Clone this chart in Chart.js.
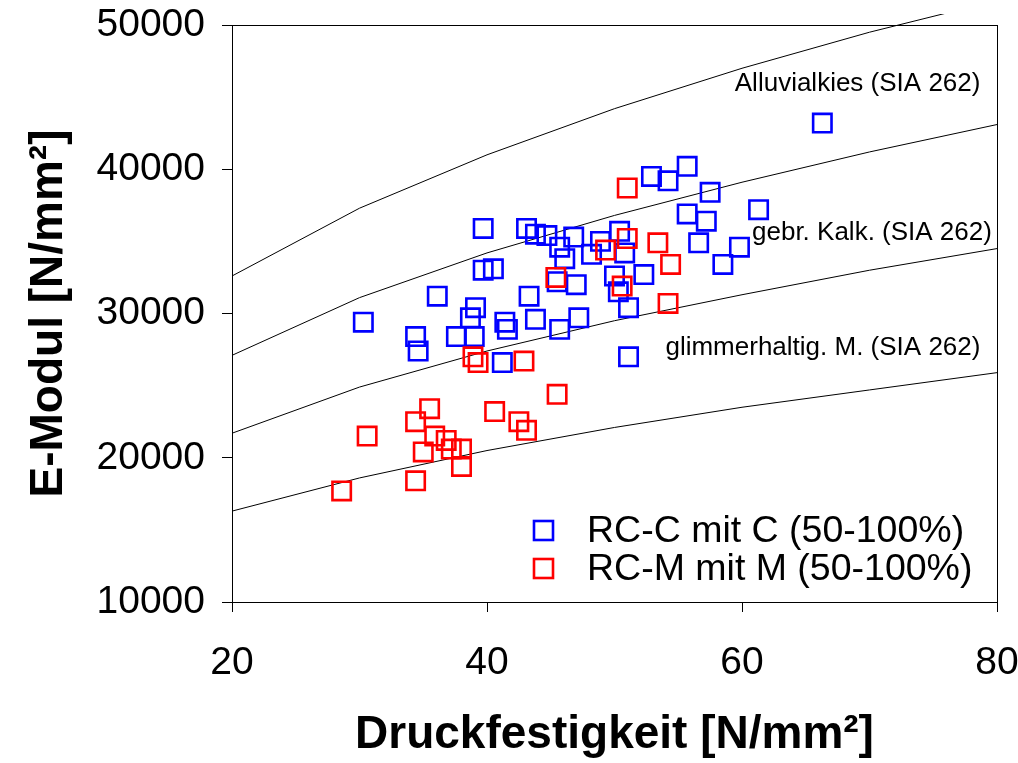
<!DOCTYPE html>
<html>
<head>
<meta charset="utf-8">
<script src="https://cdn.jsdelivr.net/npm/chart.js@4.4.1/dist/chart.umd.min.js"></script>
<style>
  html, body { margin: 0; padding: 0; background: #fff; }
  canvas { display: block; }
</style>
</head>
<body>
<canvas id="emodulChart" width="1018" height="763"></canvas>
<script>
// SIA 262 reference curves (E-Modul vs. Druckfestigkeit)
const siaX = [20, 30, 40, 50, 60, 70, 80];
const alluvialkies = [32600, 37300, 41000, 44200, 47000, 49500, 51700];
const gebrKalk = [27100, 31100, 34200, 36800, 39100, 41200, 43100];
const glimmerhaltig = [21700, 24900, 27400, 29500, 31300, 33000, 34500];
const untereKurve = [16300, 18600, 20500, 22100, 23500, 24700, 25900];

// RC-C mit C (50-100%)
const rcC_x = [66.3, 55.7, 52.9, 54.2, 57.5, 61.3, 55.7, 57.2, 39.7, 43.1, 43.8, 44.7, 46.8, 48.9, 50.4,
  45.7, 46.1, 48.2, 50.8, 56.6, 59.8, 58.5, 40.5, 39.7, 45.5, 47.0, 50.0, 52.3, 50.3, 36.1, 43.3,
  30.3, 39.1, 38.7, 41.4, 41.6, 43.8, 47.2, 45.7, 51.1, 34.4, 34.6, 37.6, 39.0, 41.2, 51.1];
const rcC_y = [43200, 40200, 39500, 39200, 38400, 37200, 36900, 36400, 35900, 35900, 35500, 35400, 35300, 35000, 35700,
  34600, 33800, 34100, 34200, 34900, 34600, 33400, 33100, 33000, 32200, 32000, 32600, 32700, 31500, 31200, 31200,
  29400, 30400, 29700, 29400, 28900, 29600, 29700, 28900, 30400, 28400, 27400, 28400, 28400, 26600, 27000];

// RC-M mit M (50-100%)
const rcM_x = [51.0, 53.4, 54.4, 51.0, 49.3, 45.4, 50.6, 54.2, 38.9, 39.3, 42.9, 45.5, 30.6,
  34.4, 35.5, 35.9, 36.8, 37.2, 38.0, 35.0, 38.0, 34.4, 28.6, 40.6, 42.5, 43.1];
const rcM_y = [38700, 34900, 33400, 35200, 34400, 32500, 31900, 30700, 27000, 26600, 26700, 24400, 21500,
  22500, 23400, 21500, 21200, 20600, 20600, 20400, 19400, 18400, 17700, 23200, 22500, 21900];

const curveLabels = ["Alluvialkies (SIA 262)", "gebr. Kalk. (SIA 262)", "glimmerhaltig. M. (SIA 262)"];
const legendLabels = ["RC-C mit C (50-100%)", "RC-M mit M (50-100%)"];

const FONT = "'Liberation Sans', Arial, sans-serif";
const toPoints = (xs, ys) => xs.map((x, i) => ({ x: x, y: ys[i] }));

function curve(values) {
    return {
        type: "line",
        data: toPoints(siaX, values),
        borderColor: "#000",
        borderWidth: 1,
        pointRadius: 0,
        tension: 0,
        fill: false,
        order: 3,
        clip: { left: 0, top: 11, right: 0, bottom: 0 }
    };
}

function squares(xs, ys, color, order) {
    return {
        type: "scatter",
        data: toPoints(xs, ys),
        pointStyle: "rect",
        pointRadius: 13,
        pointBorderWidth: 2.6,
        borderColor: color,
        pointBorderColor: color,
        backgroundColor: "rgba(0,0,0,0)",
        pointBackgroundColor: "rgba(0,0,0,0)",
        order: order
    };
}

// fixed axis sizes, no extra room for overhanging tick labels
function fixSize(prop, size) {
    return s => {
        s[prop] = size;
        s.paddingTop = 0;
        s.paddingBottom = 0;
        s.paddingLeft = 0;
        s.paddingRight = 0;
    };
}

// frame, curve captions and the legend inside the plot
const decorations = {
    id: "decorations",
    beforeDatasetsDraw(chart) {
        const { ctx, chartArea: a } = chart;
        ctx.save();
        ctx.strokeStyle = "#000";
        ctx.lineWidth = 1;
        ctx.strokeRect(a.left + 0.5, a.top + 0.5, a.right - a.left, a.bottom - a.top);
        ctx.restore();
    },
    afterDraw(chart) {
        const { ctx, chartArea: a } = chart;
        const xs = chart.scales.x, ys = chart.scales.y;
        ctx.save();
        ctx.fillStyle = "#000";
        ctx.font = "26px " + FONT;
        ctx.textAlign = "right";
        ctx.textBaseline = "alphabetic";
        ctx.fillText(curveLabels[0], xs.getPixelForValue(78.7), ys.getPixelForValue(45400));
        ctx.fillText(curveLabels[1], xs.getPixelForValue(79.6), ys.getPixelForValue(35100));
        ctx.fillText(curveLabels[2], xs.getPixelForValue(78.7), ys.getPixelForValue(27150));

        const colors = ["#0000ff", "#ff0000"];
        ctx.font = "37.5px " + FONT;
        ctx.textAlign = "left";
        ctx.textBaseline = "middle";
        legendLabels.forEach((label, i) => {
            const cy = a.top + 505 + i * 38;
            ctx.strokeStyle = colors[i];
            ctx.lineWidth = 2.6;
            ctx.strokeRect(a.left + 302, cy - 9, 19, 19);
            ctx.fillText(label, a.left + 355, cy + 2);
        });
        ctx.restore();
    }
};

const ctx = document.getElementById("emodulChart").getContext("2d");
new Chart(ctx, {
    data: {
        datasets: [
            squares(rcM_x, rcM_y, "#ff0000", 0),
            squares(rcC_x, rcC_y, "#0000ff", 1),
            curve(alluvialkies),
            curve(gebrKalk),
            curve(glimmerhaltig),
            curve(untereKurve)
        ]
    },
    options: {
        responsive: false,
        animation: false,
        layout: { padding: { left: 0, top: 25, right: 21, bottom: 0 } },
        plugins: {
            legend: { display: false },
            tooltip: { enabled: false }
        },
        scales: {
            x: {
                type: "linear",
                min: 20,
                max: 80,
                afterFit: fixSize("height", 161),
                ticks: {
                    stepSize: 20,
                    color: "#000",
                    padding: 28,
                    maxRotation: 0,
                    font: { family: FONT, size: 39 }
                },
                grid: { drawOnChartArea: false, drawTicks: true, tickLength: 10, tickColor: "#000", lineWidth: 1 },
                border: { display: true, color: "#000", width: 1 },
                title: {
                    display: true,
                    text: "Druckfestigkeit [N/mm²]",
                    color: "#000",
                    padding: { top: 0, bottom: 5 },
                    font: { family: FONT, size: 46, weight: "bold", lineHeight: 1 }
                }
            },
            y: {
                type: "linear",
                min: 10000,
                max: 50000,
                afterFit: fixSize("width", 232),
                ticks: {
                    stepSize: 10000,
                    color: "#000",
                    padding: 17,
                    callback: v => String(v),
                    font: { family: FONT, size: 39 }
                },
                grid: { drawOnChartArea: false, drawTicks: true, tickLength: 10, tickColor: "#000", lineWidth: 1 },
                border: { display: true, color: "#000", width: 1 },
                title: {
                    display: true,
                    text: "E-Modul [N/mm²]",
                    color: "#000",
                    padding: { top: 26, bottom: 0 },
                    font: { family: FONT, size: 46, weight: "bold", lineHeight: 1 }
                }
            }
        }
    },
    plugins: [decorations]
});
</script>
</body>
</html>
